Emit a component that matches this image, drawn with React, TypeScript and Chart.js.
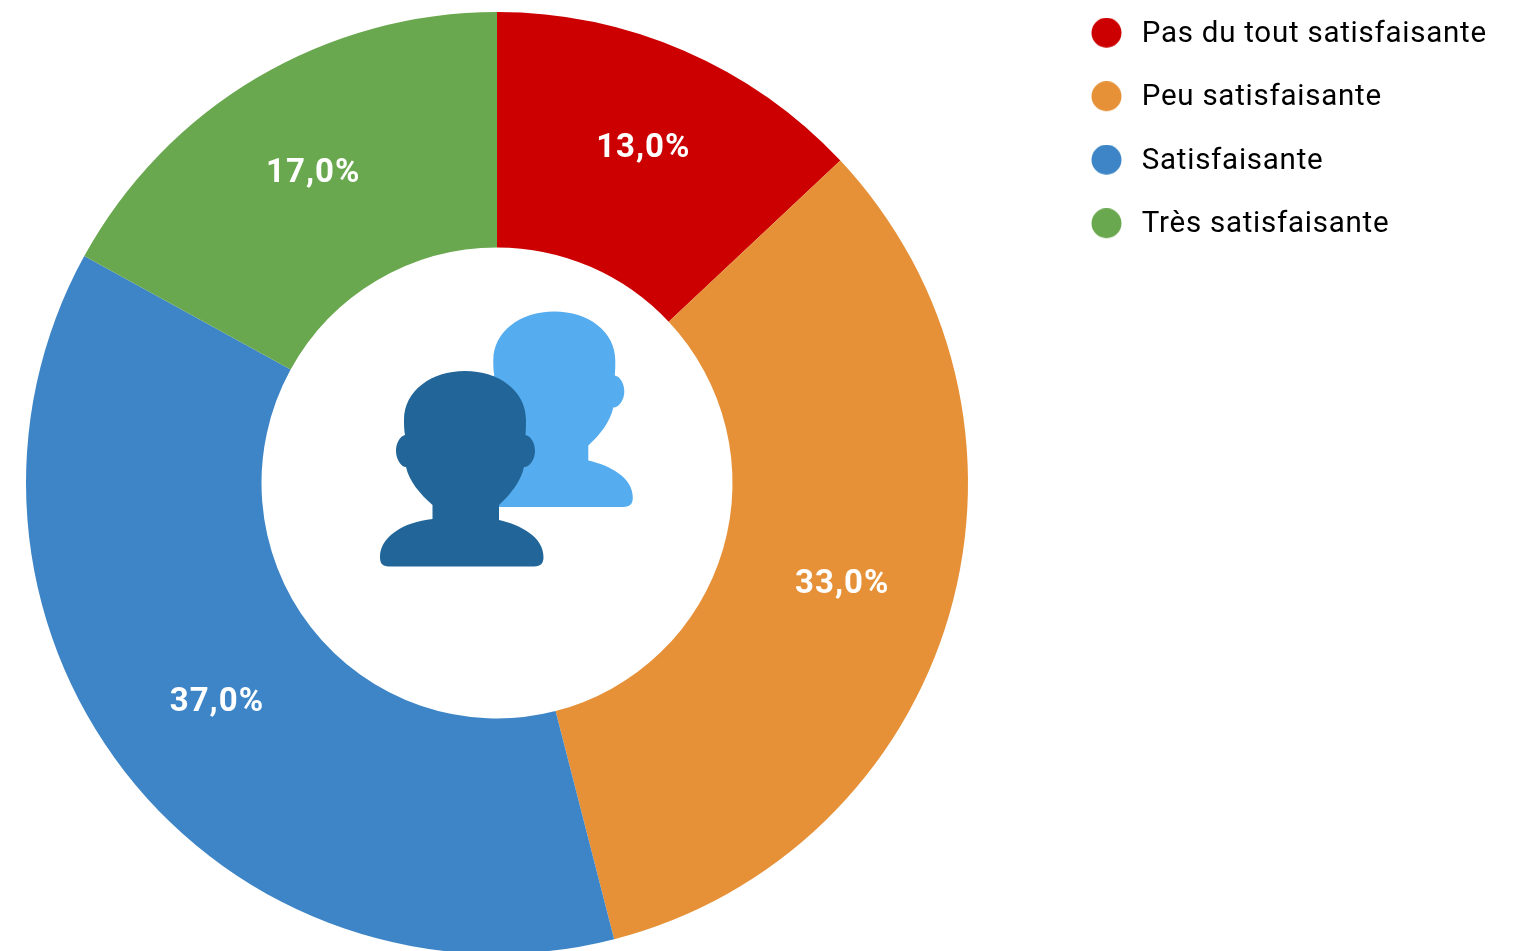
import React, { useEffect, useRef } from "react";
import { Chart, registerables } from "chart.js";

Chart.register(...registerables);

const categories = ["Pas du tout satisfaisante", "Peu satisfaisante", "Satisfaisante", "Très satisfaisante"];
const values = [13, 33, 37, 17];
const sliceColors = ["#CC0000", "#E69138", "#3D85C6", "#6AA84F"];
const valueLabels = ["13,0%", "33,0%", "37,0%", "17,0%"];
const labelNudgeX = [6, 6, -1, -4];
const labelNudgeY = [-10, 3, 3, -5];

const LEGEND_LEFT = 1057;
const LEGEND_TOP = -14.5;
const CHART_RIGHT_SPACE = 558;

const personPath =
  "M465 371 C431 371 404 391 404 420 C404 425 404 430 405 435 C400 436 396 443 396 451 C396 459 401 467 406 467 C409 481 420 494 432.5 505 L432.5 519 C403 522 380 537 380 557 C380 563 382 566.5 389 566.5 L534 566.5 C541 566.5 543.5 563 543.5 557 C543.5 537 521 525 499 520 L499 505 C511 494 521 481 524 467 C530 467 535 459 535 451 C535 443 531 436 525.5 435 C526 430 526 425 526 420 C526 391 499 371 465 371 Z";

function legendDot(color: string) {
  const c = document.createElement("canvas");
  c.width = 36;
  c.height = 33;
  const g = c.getContext("2d")!;
  g.fillStyle = color;
  g.beginPath();
  g.arc(15.5, 15, 15, 0, Math.PI * 2);
  g.fill();
  return c;
}

const decorPlugin = {
  id: "decor",
  beforeUpdate(chart: any) {
    chart.ctx.letterSpacing = "0.75px";
  },
  afterLayout(chart: any) {
    if (chart.legend) {
      const w = chart.legend.width;
      chart.legend.left = LEGEND_LEFT;
      chart.legend.right = LEGEND_LEFT + w;
      chart.legend.top = LEGEND_TOP;
    }
  },
  afterDatasetsDraw(chart: any) {
    const ctx = chart.ctx;
    const meta = chart.getDatasetMeta(0);
    ctx.save();
    ctx.font = "bold 33px Roboto";
    ctx.letterSpacing = "1px";
    ctx.fillStyle = "#FFFFFF";
    ctx.textAlign = "center";
    ctx.textBaseline = "middle";
    meta.data.forEach((arc: any, i: number) => {
      const p = arc.tooltipPosition();
      ctx.fillText(valueLabels[i], p.x + labelNudgeX[i], p.y + labelNudgeY[i]);
    });
    const person = new Path2D(personPath);
    ctx.save();
    ctx.translate(89.3, -59.5);
    ctx.fillStyle = "#55ACEE";
    ctx.fill(person);
    ctx.restore();
    ctx.fillStyle = "#226699";
    ctx.fill(person);
    ctx.restore();
  },
};

export default function App() {
  const ref = useRef<HTMLCanvasElement>(null);
  useEffect(() => {
    const chart = new Chart(ref.current!, {
      type: "doughnut",
      data: {
        labels: categories,
        datasets: [{ data: values, backgroundColor: sliceColors, borderWidth: 0, hoverOffset: 0 }],
      },
      options: {
        animation: false,
        responsive: false,
        cutout: "50%",
        layout: { padding: { left: 26, top: 12, bottom: 16, right: 130 } },
        plugins: {
          tooltip: { enabled: false },
          legend: {
            position: "right",
            align: "start",
            labels: {
              usePointStyle: true,
              pointStyleWidth: 36,
              boxHeight: 29.5,
              padding: 34,
              color: "#000000",
              font: { family: "Roboto", size: 29.5 },
              generateLabels: () =>
                categories.map((text, i) => ({
                  text,
                  fillStyle: sliceColors[i],
                  strokeStyle: sliceColors[i],
                  lineWidth: 0,
                  hidden: false,
                  index: i,
                  pointStyle: legendDot(sliceColors[i]),
                })),
            },
          },
        },
      },
      plugins: [decorPlugin],
    } as any);
    (chart.options as any).layout.padding.right = CHART_RIGHT_SPACE - chart.legend!.width;
    chart.update();
    return () => chart.destroy();
  }, []);
  return (
    <div style={{ position: "fixed", left: 0, top: 0, width: 1526, height: 951, overflow: "hidden", background: "#fff" }}>
      <canvas ref={ref} width={1526} height={970} style={{ display: "block" }} />
    </div>
  );
}
